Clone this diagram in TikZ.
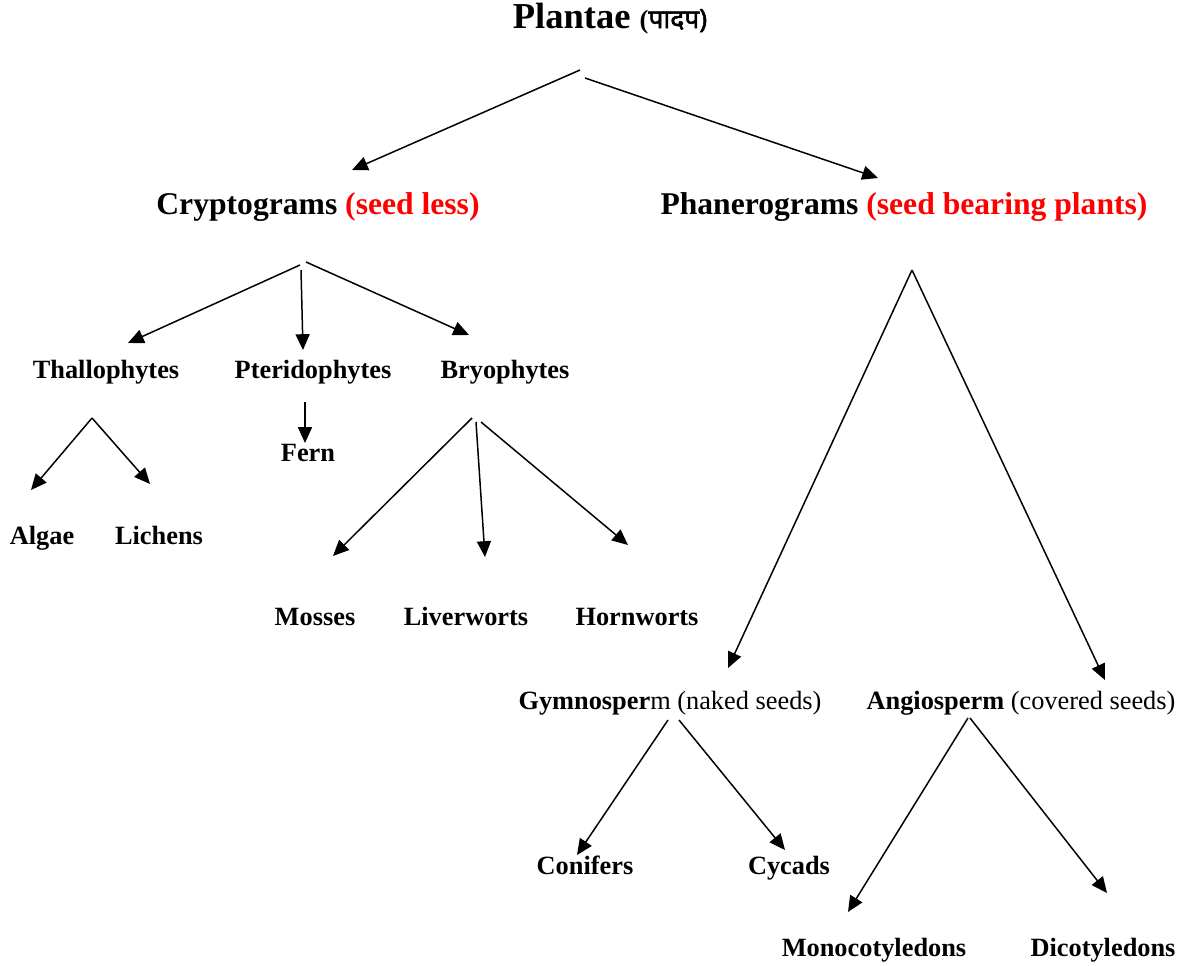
\documentclass[tikz,border=0pt]{standalone}
\usepackage{fontspec}
\setmainfont{Liberation Serif}
\newfontfamily\devfont[Script=Devanagari,FakeBold=2]{Noto Sans}
\usetikzlibrary{arrows.meta,calc}
\definecolor{seedred}{RGB}{255,0,0}
\tikzset{
  ttl/.style={font=\bfseries\fontsize{20.8}{24}\selectfont,inner sep=0pt,text height=2.1ex,text depth=.1ex},
  hd/.style={font=\bfseries\fontsize{18}{22}\selectfont,inner sep=0pt,text height=2.2ex,text depth=.1ex},
  lbl/.style={font=\bfseries\fontsize{15}{18}\selectfont,inner sep=0pt,text height=2.2ex,text depth=.1ex},
  nlbl/.style={font=\fontsize{15}{18}\selectfont,inner sep=0pt,text height=2.2ex,text depth=.1ex},
  arr/.style={line width=0.85pt,-{Triangle[length=9pt,width=8pt]}},
}
\begin{document}
\begin{tikzpicture}[x=0.02cm,y=-0.02cm]
  \useasboundingbox (0,0) rectangle (1183,966);
  % levels
  \node[ttl] (plantae) at (610,20) {Plantae {\fontsize{15}{18}\selectfont(\devfont पादप)}};
  \node[hd] (cryp) at (318,206) {Cryptograms \textcolor{seedred}{(seed less)}};
  \node[hd] (phan) at (904,206) {Phanerograms \textcolor{seedred}{(seed bearing plants)}};
  \node[lbl] (thal) at (106,370) {Thallophytes};
  \node[lbl] (pter) at (313,370) {Pteridophytes};
  \node[lbl] (bryo) at (505,370) {Bryophytes};
  \node[lbl] (fern) at (308,453) {Fern};
  \node[lbl] (algae) at (42,536) {Algae};
  \node[lbl] (lich) at (159,536) {Lichens};
  \node[lbl] (moss) at (315,617) {Mosses};
  \node[lbl] (liver) at (466,617) {Liverworts};
  \node[lbl] (horn) at (637,617) {Hornworts};
  \node[nlbl] (gymno) at (670,701) {\textbf{Gymnosper}m (naked seeds)};
  \node[nlbl] (angio) at (1021,701) {\textbf{Angiosperm} (covered seeds)};
  \node[lbl] (conif) at (585,866) {Conifers};
  \node[lbl] (cycad) at (789,866) {Cycads};
  \node[lbl] (mono) at (874,948) {Monocotyledons};
  \node[lbl] (dico) at (1103,948) {Dicotyledons};
  % arrows
  \draw[arr] ($(plantae)+(-30,50)$) -- ($(cryp)+(34,-36)$);
  \draw[arr] ($(plantae)+(-25,58)$) -- ($(phan)+(-26,-28)$);
  \draw[arr] ($(cryp)+(-18,59)$) -- ($(thal)+(22,-27)$);
  \draw[arr] ($(cryp)+(-17,64)$) -- ($(pter)+(-10,-20)$);
  \draw[arr] ($(cryp)+(-12,56)$) -- ($(bryo)+(-36,-35)$);
  \draw[arr] ($(pter)+(-8,32)$) -- ($(fern)+(-3,-10)$);
  \draw[arr] ($(thal)+(-14,48)$) -- ($(algae)+(-11,-46)$);
  \draw[arr] ($(thal)+(-14,48)$) -- ($(lich)+(-9,-52)$);
  \draw[arr] ($(bryo)+(-33,48)$) -- ($(moss)+(18,-61)$);
  \draw[arr] ($(bryo)+(-29,52)$) -- ($(liver)+(19,-60)$);
  \draw[arr] ($(bryo)+(-24,52)$) -- ($(horn)+(-9,-72)$);
  \draw[arr] ($(phan)+(8,64)$) -- ($(gymno)+(58,-33)$);
  \draw[arr] ($(phan)+(8,64)$) -- ($(angio)+(84,-21)$);
  \draw[arr] ($(gymno)+(-2,19)$) -- ($(conif)+(-8,-11)$);
  \draw[arr] ($(gymno)+(9,19)$) -- ($(cycad)+(-4,-16)$);
  \draw[arr] ($(angio)+(-53,17)$) -- ($(mono)+(-26,-36)$);
  \draw[arr] ($(angio)+(-51,17)$) -- ($(dico)+(4,-55)$);
\end{tikzpicture}
\end{document}
